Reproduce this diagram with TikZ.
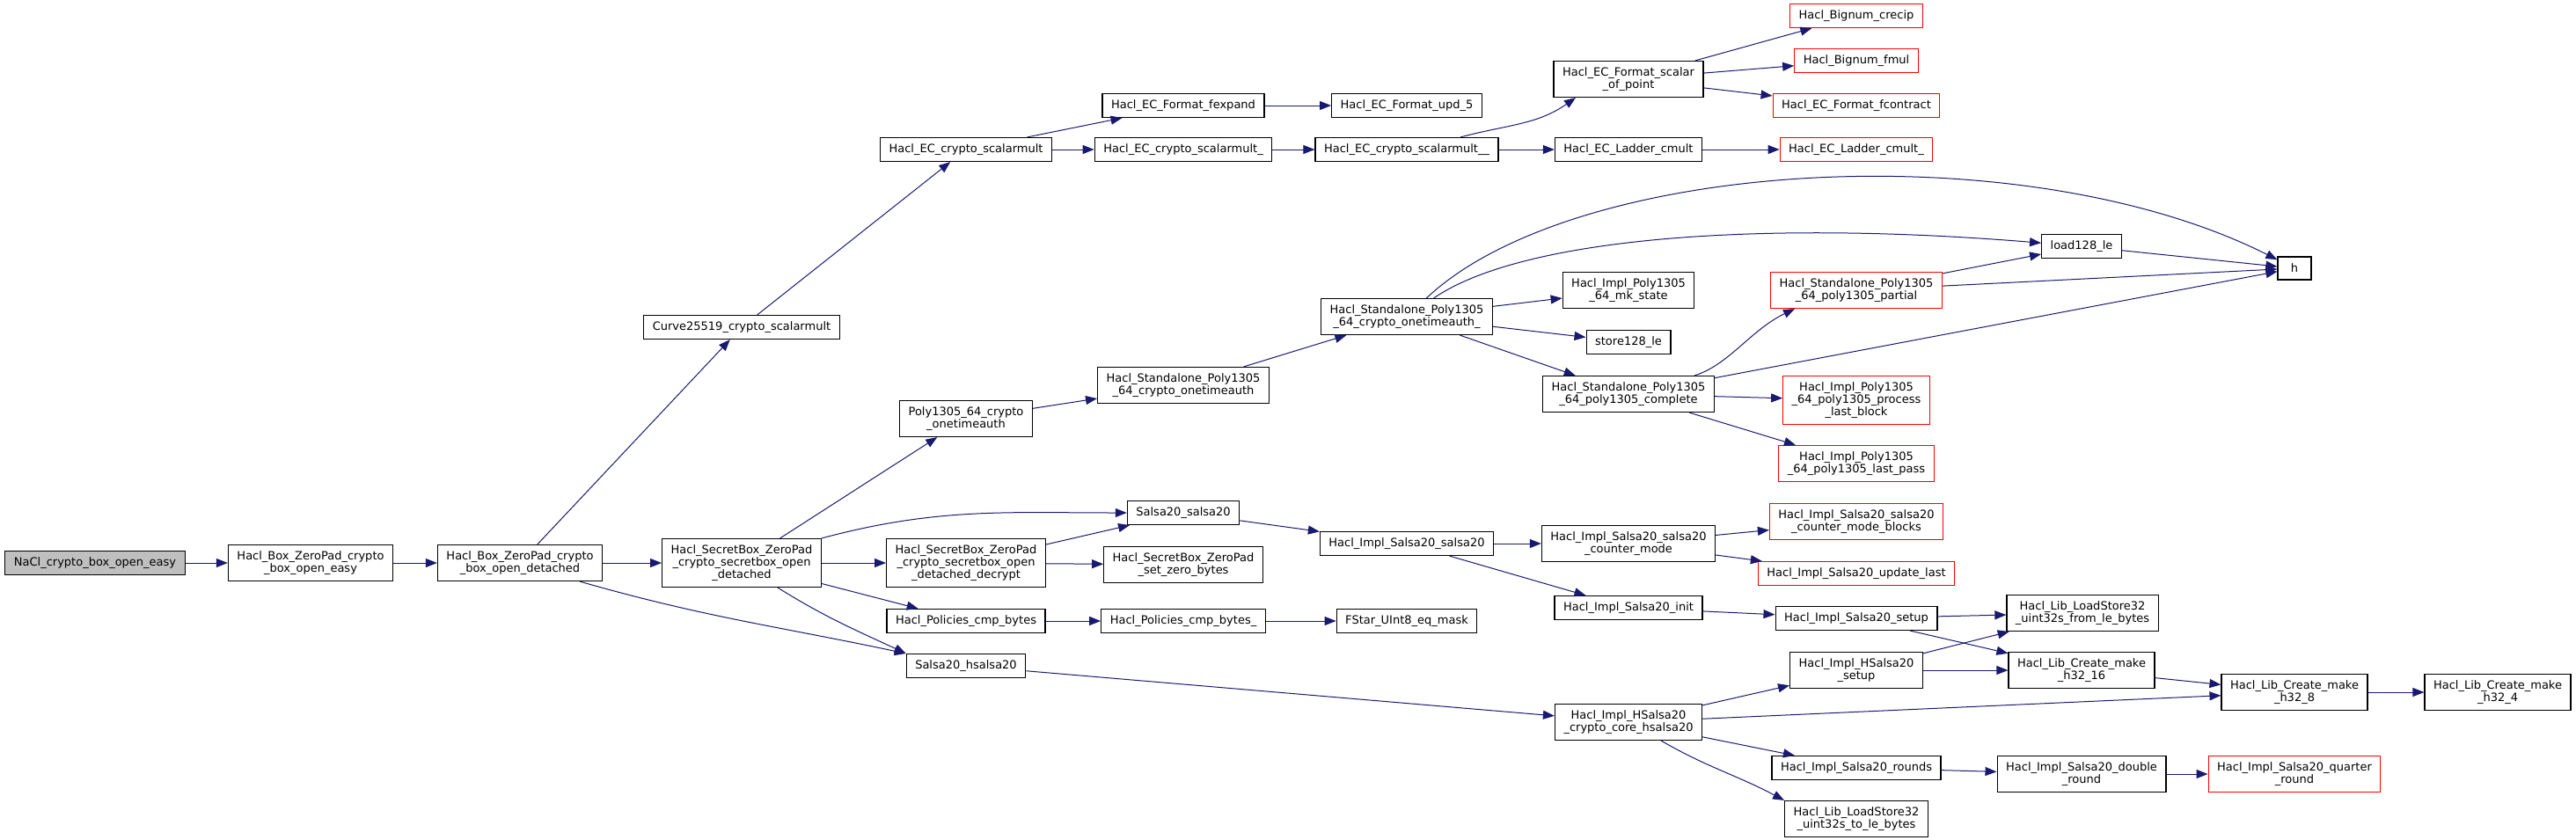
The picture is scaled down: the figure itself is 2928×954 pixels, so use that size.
\documentclass[tikz,border=0pt]{standalone}
\usepackage{fontspec}
\newfontfamily\graphfont{DejaVu Sans}
\usetikzlibrary{arrows.meta}
\definecolor{edgeblue}{HTML}{191970}
\definecolor{rootgrey}{HTML}{BFBFBF}
\definecolor{trunc}{HTML}{FF0000}
\begin{document}
\begin{tikzpicture}[x=1pt,y=1pt,
  fn/.style={draw=black,fill=white,line width=1.2pt,align=center,
    font=\graphfont\fontsize{13}{14}\selectfont,
    inner xsep=10pt,inner ysep=7pt,minimum height=26pt,minimum width=38pt},
  fnroot/.style={fn,fill=rootgrey},
  fnred/.style={fn,draw=trunc},
  call/.style={draw=edgeblue,line width=1pt,-{Triangle[length=13pt,width=10pt]}}]
\useasboundingbox (0,0) rectangle (2928,-954);

\node[fnroot] (nacl) at (108,-640) {NaCl\_crypto\_box\_open\_easy};
\node[fn] (boe) at (353,-640) {Hacl\_Box\_ZeroPad\_crypto\\\_box\_open\_easy};
\node[fn] (bod) at (591,-640) {Hacl\_Box\_ZeroPad\_crypto\\\_box\_open\_detached};
\node[fn] (c25519) at (843,-372) {Curve25519\_crypto\_scalarmult};
\node[fn] (sbod) at (843,-640) {Hacl\_SecretBox\_ZeroPad\\\_crypto\_secretbox\_open\\\_detached};

\node[fn] (ecsm) at (1098,-170) {Hacl\_EC\_crypto\_scalarmult};
\node[fn] (p1305) at (1098,-476) {Poly1305\_64\_crypto\\\_onetimeauth};
\node[fn] (sbdec) at (1098,-640) {Hacl\_SecretBox\_ZeroPad\\\_crypto\_secretbox\_open\\\_detached\_decrypt};
\node[fn] (cmpb) at (1098,-706) {Hacl\_Policies\_cmp\_bytes};
\node[fn] (hs20) at (1098,-757) {Salsa20\_hsalsa20};

\node[fn] (fexp) at (1345,-120) {Hacl\_EC\_Format\_fexpand};
\node[fn] (ecsm1) at (1345,-170) {Hacl\_EC\_crypto\_scalarmult\_};
\node[fn] (sota) at (1345,-438) {Hacl\_Standalone\_Poly1305\\\_64\_crypto\_onetimeauth};
\node[fn] (s20) at (1345,-583) {Salsa20\_salsa20};
\node[fn] (szb) at (1345,-642) {Hacl\_SecretBox\_ZeroPad\\\_set\_zero\_bytes};
\node[fn] (cmpb1) at (1345,-706) {Hacl\_Policies\_cmp\_bytes\_};

\node[fn] (upd5) at (1599,-120) {Hacl\_EC\_Format\_upd\_5};
\node[fn] (ecsm2) at (1599,-170) {Hacl\_EC\_crypto\_scalarmult\_\_};
\node[fn] (sota1) at (1599,-360) {Hacl\_Standalone\_Poly1305\\\_64\_crypto\_onetimeauth\_};
\node[fn] (is20) at (1599,-618) {Hacl\_Impl\_Salsa20\_salsa20};
\node[fn] (eqm) at (1599,-706) {FStar\_UInt8\_eq\_mask};

\node[fn] (sop) at (1851,-90) {Hacl\_EC\_Format\_scalar\\\_of\_point};
\node[fn] (lad) at (1851,-170) {Hacl\_EC\_Ladder\_cmult};
\node[fn] (mks) at (1851,-330) {Hacl\_Impl\_Poly1305\\\_64\_mk\_state};
\node[fn] (st128) at (1851,-389) {store128\_le};
\node[fn] (cmpl) at (1851,-448) {Hacl\_Standalone\_Poly1305\\\_64\_poly1305\_complete};
\node[fn] (ctrm) at (1851,-618) {Hacl\_Impl\_Salsa20\_salsa20\\\_counter\_mode};
\node[fn] (s20init) at (1851,-691) {Hacl\_Impl\_Salsa20\_init};
\node[fn] (core) at (1851,-821) {Hacl\_Impl\_HSalsa20\\\_crypto\_core\_hsalsa20};

\node[fnred] (crecip) at (2110,-18) {Hacl\_Bignum\_crecip};
\node[fnred] (fmul) at (2110,-69) {Hacl\_Bignum\_fmul};
\node[fnred] (fcon) at (2110,-120) {Hacl\_EC\_Format\_fcontract};
\node[fnred] (lad1) at (2110,-170) {Hacl\_EC\_Ladder\_cmult\_};
\node[fnred] (part) at (2110,-330) {Hacl\_Standalone\_Poly1305\\\_64\_poly1305\_partial};
\node[fnred] (plb) at (2110,-455) {Hacl\_Impl\_Poly1305\\\_64\_poly1305\_process\\\_last\_block};
\node[fnred] (lpass) at (2110,-527) {Hacl\_Impl\_Poly1305\\\_64\_poly1305\_last\_pass};
\node[fnred] (cmb) at (2110,-593) {Hacl\_Impl\_Salsa20\_salsa20\\\_counter\_mode\_blocks};
\node[fnred] (updl) at (2110,-652) {Hacl\_Impl\_Salsa20\_update\_last};
\node[fn] (setup) at (2110,-703) {Hacl\_Impl\_Salsa20\_setup};
\node[fn] (hsetup) at (2110,-762) {Hacl\_Impl\_HSalsa20\\\_setup};
\node[fn] (rounds) at (2110,-873) {Hacl\_Impl\_Salsa20\_rounds};
\node[fn] (tole) at (2110,-931) {Hacl\_Lib\_LoadStore32\\\_uint32s\_to\_le\_bytes};

\node[fn] (ld128) at (2366,-280) {load128\_le};
\node[fn] (frle) at (2367,-697) {Hacl\_Lib\_LoadStore32\\\_uint32s\_from\_le\_bytes};
\node[fn] (h16) at (2366,-762) {Hacl\_Lib\_Create\_make\\\_h32\_16};
\node[fn] (dbl) at (2366,-880) {Hacl\_Impl\_Salsa20\_double\\\_round};

\node[fn] (h) at (2608,-305) {h};
\node[fn] (h8) at (2608,-787) {Hacl\_Lib\_Create\_make\\\_h32\_8};
\node[fnred] (qr) at (2608,-880) {Hacl\_Impl\_Salsa20\_quarter\\\_round};
\node[fn] (h4) at (2839,-787) {Hacl\_Lib\_Create\_make\\\_h32\_4};

\draw[call] (nacl) -- (boe);
\draw[call] (boe) -- (bod);
\draw[call] (bod) -- (c25519);
\draw[call] (bod) -- (sbod);
\draw[call] ([xshift=68pt]bod.south) to[out=-16,in=168] (hs20.north west);
\draw[call] (c25519) -- (ecsm);
\draw[call] (ecsm) -- (fexp);
\draw[call] (ecsm) -- (ecsm1);
\draw[call] (fexp) -- (upd5);
\draw[call] (ecsm1) -- (ecsm2);
\draw[call] ([xshift=61pt]ecsm2.north) to[out=15,in=-145] ([xshift=-60pt]sop.south);
\draw[call] (ecsm2) -- (lad);
\draw[call] (sop) -- (crecip);
\draw[call] (sop) -- (fmul);
\draw[call] (sop) -- (fcon);
\draw[call] (lad) -- (lad1);
\draw[call] (sbod) -- (p1305);
\draw[call] (sbod.north east) to[out=15,in=180] (s20);
\draw[call] (sbod) -- (sbdec);
\draw[call] (sbod) -- (cmpb);
\draw[call] ([xshift=41pt]sbod.south) to[out=-32,in=155] (hs20.north west);
\draw[call] (p1305) -- (sota);
\draw[call] (sota) -- (sota1);
\draw[call] (sota1) .. controls (1790,-180) and (2300,-150) .. (h);
\draw[call] (sota1) .. controls (1730,-270) and (2000,-250) .. (ld128);
\draw[call] (sota1) -- (mks);
\draw[call] (sota1) -- (st128);
\draw[call] (sota1) -- (cmpl);
\draw[call] ([xshift=75pt]cmpl.north) .. controls (1965,-415) and (1990,-375) .. ([xshift=-70pt]part.south);
\draw[call] (cmpl) -- (h);
\draw[call] (cmpl) -- (plb);
\draw[call] (cmpl) -- (lpass);
\draw[call] (part) -- (ld128);
\draw[call] (part) -- (h);
\draw[call] (ld128) -- (h);
\draw[call] (sbdec) -- (s20);
\draw[call] (sbdec) -- (szb);
\draw[call] (s20) -- (is20);
\draw[call] (is20) -- (ctrm);
\draw[call] (is20) -- (s20init);
\draw[call] (ctrm) -- (cmb);
\draw[call] (ctrm) -- (updl);
\draw[call] (s20init) -- (setup);
\draw[call] (setup) -- (frle);
\draw[call] (setup) -- (h16);
\draw[call] (cmpb) -- (cmpb1);
\draw[call] (cmpb1) -- (eqm);
\draw[call] (hs20) -- (core);
\draw[call] (core) -- (hsetup);
\draw[call] (core) -- (h8);
\draw[call] (core) -- (rounds);
\draw[call] ([xshift=37pt]core.south) to[out=-30,in=152] (tole.north west);
\draw[call] (hsetup) -- (frle);
\draw[call] (hsetup) -- (h16);
\draw[call] (h16) -- (h8);
\draw[call] (h8) -- (h4);
\draw[call] (rounds) -- (dbl);
\draw[call] (dbl) -- (qr);
\end{tikzpicture}
\end{document}
